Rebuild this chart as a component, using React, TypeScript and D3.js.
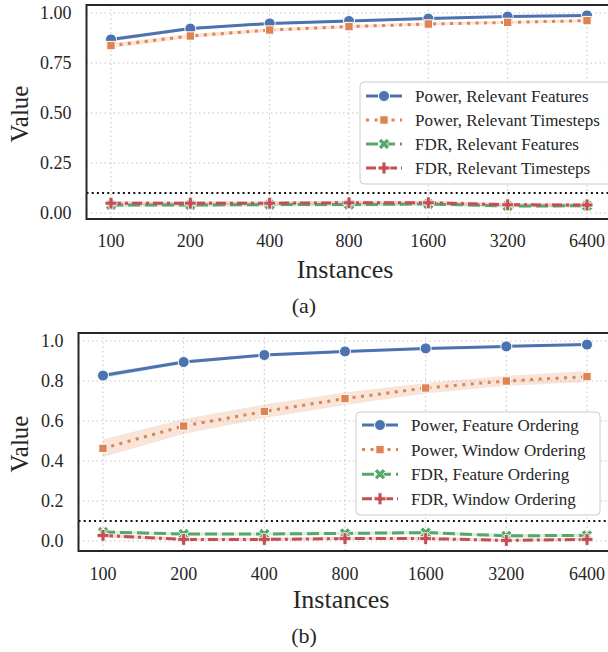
import React, { useEffect, useRef } from "react";
import * as d3 from "d3";

const instances = [100, 200, 400, 800, 1600, 3200, 6400];

// panel (a)
const yTicksA = [0, 0.25, 0.5, 0.75, 1.0];
const powerRelFeatures = [0.868, 0.922, 0.948, 0.96, 0.972, 0.982, 0.988];
const powerRelFeaturesLo = [0.858, 0.915, 0.943, 0.955, 0.968, 0.978, 0.984];
const powerRelFeaturesHi = [0.878, 0.929, 0.953, 0.965, 0.976, 0.986, 0.992];
const powerRelTimesteps = [0.837, 0.885, 0.915, 0.932, 0.945, 0.953, 0.962];
const powerRelTimestepsLo = [0.825, 0.875, 0.906, 0.924, 0.938, 0.946, 0.955];
const powerRelTimestepsHi = [0.849, 0.895, 0.924, 0.94, 0.952, 0.96, 0.969];
const fdrRelFeatures = [0.04, 0.04, 0.042, 0.042, 0.045, 0.035, 0.036];
const fdrRelFeaturesLo = [0.03, 0.031, 0.033, 0.033, 0.036, 0.027, 0.028];
const fdrRelFeaturesHi = [0.05, 0.049, 0.051, 0.051, 0.054, 0.043, 0.044];
const fdrRelTimesteps = [0.049, 0.049, 0.049, 0.051, 0.051, 0.041, 0.04];
const fdrRelTimestepsLo = [0.039, 0.039, 0.039, 0.041, 0.041, 0.031, 0.03];
const fdrRelTimestepsHi = [0.059, 0.059, 0.059, 0.061, 0.061, 0.051, 0.05];

// panel (b)
const yTicksB = [0, 0.2, 0.4, 0.6, 0.8, 1.0];
const powerFeatOrd = [0.827, 0.895, 0.93, 0.948, 0.963, 0.973, 0.982];
const powerFeatOrdLo = [0.815, 0.886, 0.923, 0.942, 0.958, 0.969, 0.978];
const powerFeatOrdHi = [0.839, 0.904, 0.937, 0.954, 0.968, 0.977, 0.986];
const powerWinOrd = [0.463, 0.575, 0.648, 0.712, 0.765, 0.8, 0.822];
const powerWinOrdLo = [0.42, 0.535, 0.615, 0.68, 0.737, 0.776, 0.795];
const powerWinOrdHi = [0.507, 0.61, 0.682, 0.742, 0.79, 0.826, 0.85];
const fdrFeatOrd = [0.045, 0.035, 0.035, 0.038, 0.042, 0.026, 0.028];
const fdrFeatOrdLo = [0.037, 0.027, 0.027, 0.03, 0.034, 0.018, 0.02];
const fdrFeatOrdHi = [0.053, 0.043, 0.043, 0.046, 0.05, 0.034, 0.036];
const fdrWinOrd = [0.028, 0.008, 0.008, 0.012, 0.012, 0.003, 0.008];
const fdrWinOrdLo = [0.018, 0.002, 0.002, 0.005, 0.005, 0.0, 0.002];
const fdrWinOrdHi = [0.038, 0.016, 0.016, 0.02, 0.02, 0.01, 0.016];

const threshold = 0.1;

const BLUE = "#4C72B0";
const ORANGE = "#DD8452";
const GREEN = "#55A868";
const RED = "#C44E52";
const FONT = "Liberation Serif, Times New Roman, serif";
const INK = "#262626";

const styles = [
  { color: BLUE, dash: null, marker: "circle" },
  { color: ORANGE, dash: "3 5.5", marker: "square" },
  { color: GREEN, dash: "12 5", marker: "x" },
  { color: RED, dash: "10 4 3 4", marker: "plus" },
];

const seriesA = [
  { label: "Power, Relevant Features", v: powerRelFeatures, lo: powerRelFeaturesLo, hi: powerRelFeaturesHi },
  { label: "Power, Relevant Timesteps", v: powerRelTimesteps, lo: powerRelTimestepsLo, hi: powerRelTimestepsHi },
  { label: "FDR, Relevant Features", v: fdrRelFeatures, lo: fdrRelFeaturesLo, hi: fdrRelFeaturesHi },
  { label: "FDR, Relevant Timesteps", v: fdrRelTimesteps, lo: fdrRelTimestepsLo, hi: fdrRelTimestepsHi },
];

const seriesB = [
  { label: "Power, Feature Ordering", v: powerFeatOrd, lo: powerFeatOrdLo, hi: powerFeatOrdHi },
  { label: "Power, Window Ordering", v: powerWinOrd, lo: powerWinOrdLo, hi: powerWinOrdHi },
  { label: "FDR, Feature Ordering", v: fdrFeatOrd, lo: fdrFeatOrdLo, hi: fdrFeatOrdHi },
  { label: "FDR, Window Ordering", v: fdrWinOrd, lo: fdrWinOrdLo, hi: fdrWinOrdHi },
];

function drawMarker(g, kind, cx, cy, color) {
  if (kind === "circle") {
    g.append("circle").attr("cx", cx).attr("cy", cy).attr("r", 5.5)
      .attr("fill", color).attr("stroke", "#fff").attr("stroke-width", 1);
  } else if (kind === "square") {
    g.append("rect").attr("x", cx - 4.2).attr("y", cy - 4.2).attr("width", 8.4).attr("height", 8.4)
      .attr("fill", color).attr("stroke", "#fff").attr("stroke-width", 1);
  } else {
    const path = d3.symbol(d3.symbolCross, 78)();
    g.append("path").attr("d", path)
      .attr("transform", `translate(${cx},${cy})${kind === "x" ? " rotate(45)" : ""}`)
      .attr("fill", color).attr("stroke", "#fff").attr("stroke-width", 0.8);
  }
}

function drawPanel(root, p) {
  const g = root.append("g");
  const x = d3.scaleLog().base(2).domain([100, 6400]).range([p.left + 24.5, p.right - 24.5]);
  const y = d3.scaleLinear().domain(p.yDomain).range([p.bottom, p.top]);

  // grid
  g.selectAll(".vgrid").data(instances).join("line")
    .attr("x1", (d) => x(d)).attr("x2", (d) => x(d))
    .attr("y1", p.top).attr("y2", p.bottom)
    .attr("stroke", "#c4c4c4").attr("stroke-width", 1).attr("stroke-dasharray", "1.5 3");
  g.selectAll(".hgrid").data(p.yTicks).join("line")
    .attr("x1", p.left).attr("x2", p.right)
    .attr("y1", (d) => y(d)).attr("y2", (d) => y(d))
    .attr("stroke", "#c4c4c4").attr("stroke-width", 1).attr("stroke-dasharray", "1.5 3");

  // confidence bands
  p.series.forEach((s, k) => {
    const area = d3.area()
      .x((d, i) => x(instances[i]))
      .y0((d, i) => y(s.lo[i]))
      .y1((d, i) => y(s.hi[i]));
    g.append("path").datum(s.v).attr("d", area)
      .attr("fill", styles[k].color).attr("fill-opacity", 0.22).attr("stroke", "none");
  });

  // threshold line
  g.append("line")
    .attr("x1", p.left).attr("x2", p.right)
    .attr("y1", y(threshold)).attr("y2", y(threshold))
    .attr("stroke", "#111").attr("stroke-width", 2).attr("stroke-dasharray", "2 3.2");

  // lines + markers
  const line = d3.line().x((d, i) => x(instances[i])).y((d) => y(d));
  p.series.forEach((s, k) => {
    const st = styles[k];
    g.append("path").datum(s.v).attr("d", line)
      .attr("fill", "none").attr("stroke", st.color).attr("stroke-width", 3)
      .attr("stroke-dasharray", st.dash);
    s.v.forEach((d, i) => drawMarker(g, st.marker, x(instances[i]), y(d), st.color));
  });

  // frame
  g.append("rect")
    .attr("x", p.left).attr("y", p.top)
    .attr("width", p.right - p.left).attr("height", p.bottom - p.top)
    .attr("fill", "none").attr("stroke", INK).attr("stroke-width", 2);

  // tick labels
  g.selectAll(".ytl").data(p.yTicks).join("text")
    .attr("x", p.left - 15).attr("y", (d) => y(d)).attr("dy", "0.35em")
    .attr("text-anchor", "end").attr("font-family", FONT).attr("font-size", 18).attr("fill", INK)
    .text((d) => d3.format(p.yFormat)(d));
  g.selectAll(".xtl").data(instances).join("text")
    .attr("x", (d) => x(d)).attr("y", p.xTickBase)
    .attr("text-anchor", "middle").attr("font-family", FONT).attr("font-size", 18).attr("fill", INK)
    .text((d) => d);

  // axis titles
  g.append("text")
    .attr("x", (p.left + p.right) / 2 - 4).attr("y", p.xTitleBase)
    .attr("text-anchor", "middle").attr("font-family", FONT).attr("font-size", 26).attr("fill", INK)
    .text("Instances");
  g.append("text")
    .attr("transform", `translate(28,${(p.top + p.bottom) / 2 + 2}) rotate(-90)`)
    .attr("text-anchor", "middle").attr("font-family", FONT).attr("font-size", 25).attr("fill", INK)
    .text("Value");
  g.append("text")
    .attr("x", 304).attr("y", p.capBase)
    .attr("text-anchor", "middle").attr("font-family", FONT).attr("font-size", 22).attr("fill", INK)
    .text(p.caption);

  // legend
  const L = p.legend;
  g.append("rect")
    .attr("x", L.x).attr("y", L.y).attr("width", L.w).attr("height", L.h)
    .attr("rx", 4).attr("fill", "#fff").attr("fill-opacity", 0.85)
    .attr("stroke", "#cccccc").attr("stroke-width", 1);
  p.series.forEach((s, k) => {
    const st = styles[k];
    const cy = L.y + L.first + k * L.step;
    g.append("line")
      .attr("x1", L.x + 6).attr("x2", L.x + 42).attr("y1", cy).attr("y2", cy)
      .attr("stroke", st.color).attr("stroke-width", 3).attr("stroke-dasharray", st.dash);
    drawMarker(g, st.marker, L.x + 24, cy, st.color);
    g.append("text")
      .attr("x", L.x + 55).attr("y", cy).attr("dy", "0.35em")
      .attr("font-family", FONT).attr("font-size", 17).attr("fill", INK)
      .text(s.label);
  });
}

const App = () => {
  const ref = useRef(null);

  useEffect(() => {
    document.body.style.margin = "0";
    const svg = d3.select(ref.current);
    svg.selectAll("*").remove();

    drawPanel(svg, {
      left: 86.5, right: 611.5, top: 5, bottom: 219,
      yDomain: [-0.03, 1.04], yTicks: yTicksA, yFormat: ".2f",
      series: seriesA, xTickBase: 247, xTitleBase: 278, capBase: 313, caption: "(a)",
      legend: { x: 360, y: 82, w: 252, h: 102, first: 14, step: 24 },
    });
    drawPanel(svg, {
      left: 78.5, right: 611.5, top: 333, bottom: 551,
      yDomain: [-0.05, 1.04], yTicks: yTicksB, yFormat: ".1f",
      series: seriesB, xTickBase: 580, xTitleBase: 608, capBase: 643, caption: "(b)",
      legend: { x: 356, y: 412, w: 244, h: 103, first: 13, step: 24.6 },
    });
  }, []);

  return <svg ref={ref} width={608} height={652} style={{ display: "block", background: "#fff" }} />;
};

export default App;
